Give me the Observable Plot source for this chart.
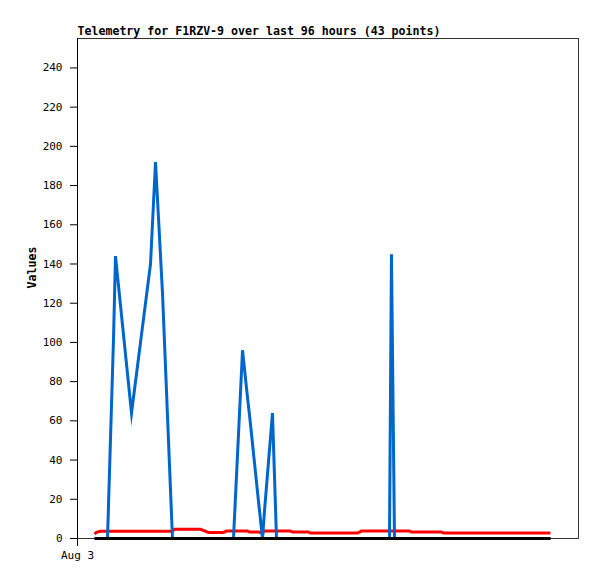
<!DOCTYPE html>
<html><head><meta charset="utf-8">
<script src="https://cdn.jsdelivr.net/npm/d3@7"></script>
<script src="https://cdn.jsdelivr.net/npm/@observablehq/plot@0.6"></script>
<style>body{margin:0;background:#fff}</style>
</head><body><div id="chart"></div>
<script>
const title = "Telemetry for F1RZV-9 over last 96 hours (43 points)";
const yLabel = "Values";
const startDate = "2023-08-03T00:00:00Z";
const spanHours = 96;
const xTickLabels = ["Aug 3"];
const yTicks = [0, 20, 40, 60, 80, 100, 120, 140, 160, 180, 200, 220, 240];
const hours = [3.26, 3.64, 4.41, 5.75, 6.90, 7.28, 8.81, 10.35, 13.99, 14.95, 16.29, 18.20, 18.59, 23.57, 24.33, 25.10, 27.97, 28.55, 29.89, 31.62, 32.57, 32.96, 34.68, 35.45, 35.83, 37.36, 38.13, 40.81, 41.20, 44.26, 44.64, 49.43, 53.65, 54.42, 59.78, 60.16, 60.74, 63.61, 64.00, 69.75, 70.13, 81.05, 90.63];
const seriesBlue = [0, 0, 0, 0, 102, 144, 104, 64, 140, 192, 125, 0, 0, 0, 0, 0, 0, 0, 0, 96, 72, 63, 19, 0, 14, 64, 0, 0, 0, 0, 0, 0, 0, 0, 0, 145, 0, 0, 0, 0, 0, 0, 0];
const seriesRed = [2.3, 3.1, 3.7, 3.7, 3.7, 3.7, 3.7, 3.7, 3.7, 3.7, 3.7, 3.7, 4.7, 4.7, 3.9, 3.1, 3.1, 3.8, 3.8, 3.8, 3.8, 3.3, 3.3, 2.8, 3.8, 3.8, 3.8, 3.8, 3.3, 3.3, 2.8, 2.8, 2.8, 3.8, 3.8, 3.8, 3.8, 3.8, 3.3, 3.3, 2.8, 2.8, 2.8];
const seriesBlack = [0, 0, 0, 0, 0, 0, 0, 0, 0, 0, 0, 0, 0, 0, 0, 0, 0, 0, 0, 0, 0, 0, 0, 0, 0, 0, 0, 0, 0, 0, 0, 0, 0, 0, 0, 0, 0, 0, 0, 0, 0, 0, 0];

const base = new Date(startDate);
const end = new Date(+base + spanHours * 3600e3);
const rows = hours.map((h, i) => ({t: new Date(+base + h * 3600e3), blue: seriesBlue[i], red: seriesRed[i], black: seriesBlack[i]}));
const lineStyle = {strokeWidth: 3, strokeLinejoin: "miter", strokeLinecap: "butt", strokeMiterlimit: 10};

const chart = Plot.plot({
  width: 597, height: 579,
  marginLeft: 77, marginRight: 19, marginTop: 38, marginBottom: 41,
  style: {fontFamily: "DejaVu Sans Mono", fontSize: "11px", background: "white", color: "black"},
  x: {type: "utc", domain: [base, end]},
  y: {domain: [0, 255]},
  marks: [
    Plot.frame({stroke: "#333", strokeWidth: 1}),
    Plot.axisY({ticks: yTicks, tickSize: 7, tickPadding: 8, label: null, stroke: "black"}),
    Plot.axisX({ticks: [base], tickSize: 8, tickPadding: 5, tickFormat: (d, i) => xTickLabels[i], label: null, stroke: "black"}),
    Plot.ruleX([base], {stroke: "black", strokeWidth: 1}),
    Plot.line(rows, {x: "t", y: "red", stroke: "#ff0000", ...lineStyle}),
    Plot.line(rows, {x: "t", y: "blue", stroke: "#0066cc", ...lineStyle}),
    Plot.line(rows, {x: "t", y: "black", stroke: "black", ...lineStyle}),
    Plot.text([title], {frameAnchor: "top-left", dy: -7, textAnchor: "start", lineAnchor: "middle", fontWeight: "bold", fontSize: 11.6}),
    Plot.text([yLabel], {frameAnchor: "left", dx: -45, rotate: -90, fontWeight: "bold", fontSize: 11.6})
  ]
});
document.getElementById("chart").appendChild(chart);
</script>
</body></html>
